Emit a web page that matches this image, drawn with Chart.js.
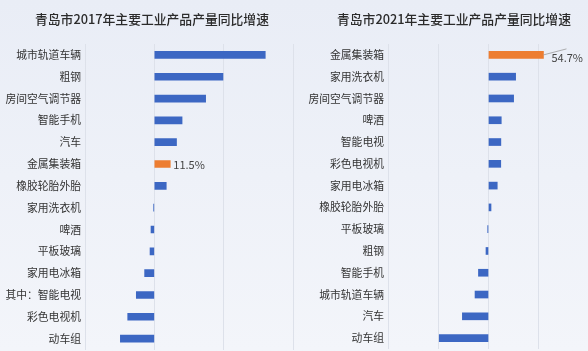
<!DOCTYPE html>
<html><head><meta charset="utf-8">
<script src="https://cdn.jsdelivr.net/npm/chart.js@4/dist/chart.umd.min.js"></script>
<style>
html,body{margin:0;padding:0;width:588px;height:351px;overflow:hidden;}
body{background:linear-gradient(180deg,#e9edf6 0%,#eef1f8 50%,#f3f5fa 100%);position:relative;font-family:"Noto Sans CJK SC","Noto Sans",sans-serif;}
.t{position:absolute;top:10px;font-size:12.8px;color:#2b2b2b;font-weight:500;white-space:nowrap;line-height:18px;}
#w1{position:absolute;left:0;top:0;width:294px;height:360px;}
#w2{position:absolute;left:294px;top:0;width:300px;height:360px;}
</style></head>
<body>
<div id="w1"><canvas id="c1" width="294" height="360"></canvas></div>
<div id="w2"><canvas id="c2" width="300" height="360"></canvas></div>
<div class="t" style="left:35px;">青岛市2017年主要工业产品产量同比增速</div>
<div class="t" style="left:337px;">青岛市2021年主要工业产品产量同比增速</div>
<script>
const categories2017 = ['城市轨道车辆','粗钢','房间空气调节器','智能手机','汽车','金属集装箱','橡胶轮胎外胎','家用洗衣机','啤酒','平板玻璃','家用电冰箱','其中：智能电视','彩色电视机','动车组'];
const growth2017 = [80, 49.5, 37, 20, 16, 11.5, 8.6, -0.5, -2.4, -3.1, -7, -13, -19.2, -24.5];
const categories2021 = ['金属集装箱','家用洗衣机','房间空气调节器','啤酒','智能电视','彩色电视机','家用电冰箱','橡胶轮胎外胎','平板玻璃','粗钢','智能手机','城市轨道车辆','汽车','动车组'];
const growth2021 = [54.7, 27, 25, 12.7, 12.3, 12.2, 8.7, 2.5, -0.8, -2.5, -10, -13.4, -26, -49];
const highlight2017 = '金属集装箱';
const highlight2021 = '金属集装箱';
const label2017 = '11.5%';
const label2021 = '54.7%';

const BLUE = '#3c67c3', ORANGE = '#ed7d31';
const FONT = '"Noto Sans CJK SC","Noto Sans",sans-serif';

function colorsFor(cats, hl){ return cats.map(c => c === hl ? ORANGE : BLUE); }

function makeChart(id, cats, vals, hl, opts){
  return new Chart(document.getElementById(id), {
    type: 'bar',
    data: { labels: cats, datasets: [{ data: vals, backgroundColor: colorsFor(cats, hl), barThickness: 7, borderWidth: 0 }] },
    options: {
      indexAxis: 'y', responsive: false, animation: false,
      layout: { padding: opts.padding },
      plugins: { legend: { display: false }, tooltip: { enabled: false } },
      scales: {
        x: { min: opts.min, max: opts.max, ticks: { display: false, stepSize: 50 },
             grid: { color: '#dde1ea', lineWidth: 1, drawTicks: false }, border: { display: false } },
        y: { grid: { display: false, drawTicks: false }, border: { display: false },
             ticks: { color: '#333', font: { family: FONT, size: 10.8 }, padding: 4, autoSkip: false },
             afterFit: s => { s.width = opts.yWidth; } }
      }
    },
    plugins: [opts.labelPlugin]
  });
}

const lbl1 = { id: 'lbl1', afterDatasetsDraw(chart){
  const ctx = chart.ctx, idx = categories2017.indexOf(highlight2017);
  const x = chart.scales.x.getPixelForValue(growth2017[idx]);
  const y = chart.scales.y.getPixelForValue(idx);
  ctx.save(); ctx.font = '11px ' + FONT; ctx.fillStyle = '#444'; ctx.textBaseline = 'middle';
  ctx.fillText(label2017, x + 3, y + 1); ctx.restore();
}};
const lbl2 = { id: 'lbl2', afterDatasetsDraw(chart){
  const ctx = chart.ctx, idx = categories2021.indexOf(highlight2021);
  const x = chart.scales.x.getPixelForValue(growth2021[idx]);
  const y = chart.scales.y.getPixelForValue(idx);
  ctx.save();
  ctx.strokeStyle = '#9a9a9a'; ctx.lineWidth = 0.8;
  ctx.beginPath(); ctx.moveTo(x, y); ctx.lineTo(x + 23, y - 6); ctx.stroke();
  ctx.font = '11px ' + FONT; ctx.fillStyle = '#444'; ctx.textBaseline = 'middle';
  ctx.fillText(label2021, x + 8, y + 3); ctx.restore();
}};

makeChart('c1', categories2017, growth2017, highlight2017, { min: -50, max: 100, yWidth: 85, padding: { top: 44, bottom: 7, left: 0, right: 1 }, labelPlugin: lbl1 });
makeChart('c2', categories2021, growth2021, highlight2021, { min: -100, max: 100, yWidth: 94, padding: { top: 44, bottom: 11, left: 0, right: 5 }, labelPlugin: lbl2 });
</script>
</body></html>
